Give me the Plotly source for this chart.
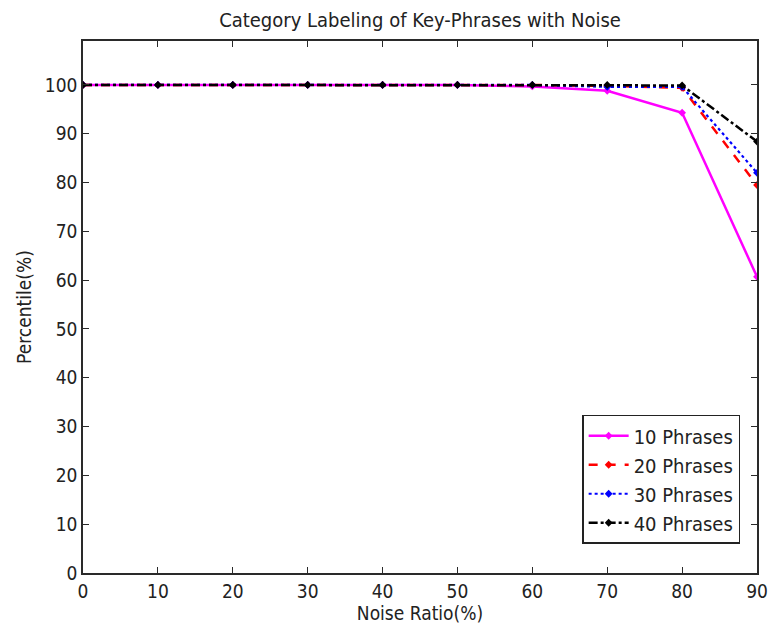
import plotly.graph_objects as go

# Noise ratio (%) on the x axis
noise_ratio = [0, 10, 20, 30, 40, 50, 60, 70, 80, 90]

# Percentile (%) of correctly labelled categories for each key-phrase count
phrases_10 = [100, 100, 100, 100, 100, 100, 99.7, 98.8, 94.3, 60.7]
phrases_20 = [100, 100, 100, 100, 100, 100, 100, 99.8, 99.4, 79.5]
phrases_30 = [100, 100, 100, 100, 100, 100, 100, 99.6, 99.6, 82.0]
phrases_40 = [100, 100, 100, 100, 100, 100, 100, 100, 99.9, 88.4]

series_names = ["10 Phrases", "20 Phrases", "30 Phrases", "40 Phrases"]

FONT = "Liberation Sans Narrow, DejaVu Sans Condensed, Arial Narrow, Liberation Sans, sans-serif"
AXIS_COLOR = "#2a2a2a"

fig = go.Figure()

styles = [
    (phrases_10, "#ff00ff", "solid", 2.5),
    (phrases_20, "#ff0000", "dash", 2.5),
    (phrases_30, "#0000ff", "dot", 2.2),
    (phrases_40, "#000000", "dashdot", 2.5),
]

for name, (vals, color, dash, width) in zip(series_names, styles):
    fig.add_trace(go.Scatter(
        x=noise_ratio, y=vals, name=name, mode="lines+markers",
        line=dict(color=color, dash=dash, width=width),
        marker=dict(symbol="diamond", size=6, color=color),
    ))

axis_common = dict(
    showline=True, linecolor=AXIS_COLOR, linewidth=1.5, mirror="ticks",
    ticks="inside", ticklen=6, tickwidth=1, tickcolor=AXIS_COLOR,
    showgrid=False, zeroline=False, automargin=False,
    tickfont=dict(family=FONT, size=19, color="#222222"),
    title_font=dict(family=FONT, size=19, color="#222222"),
)

fig.update_xaxes(range=[0, 90], tickvals=list(range(0, 91, 10)),
                 title_text="Noise Ratio(%)", title_standoff=6, **axis_common)
fig.update_yaxes(range=[0, 109], tickvals=list(range(0, 101, 10)),
                 title_text="Percentile(%)", title_standoff=8, **axis_common)

fig.update_layout(
    width=768, height=630,
    margin=dict(l=83, r=11, t=41, b=57),
    paper_bgcolor="white", plot_bgcolor="white",
    title=dict(text="Category Labeling of Key-Phrases with Noise",
               x=(83 + 757) / 2 / 768, xanchor="center", y=1 - 20 / 630, yanchor="middle",
               font=dict(family=FONT, size=20, color="#222222")),
    legend=dict(x=0.975, xanchor="right", y=0.055, yanchor="bottom",
                bgcolor="white", bordercolor="#222222", borderwidth=1.5,
                font=dict(family=FONT, size=20, color="#222222"),
                tracegroupgap=0, itemwidth=40),
    showlegend=True,
)

fig.write_html("out.html")
